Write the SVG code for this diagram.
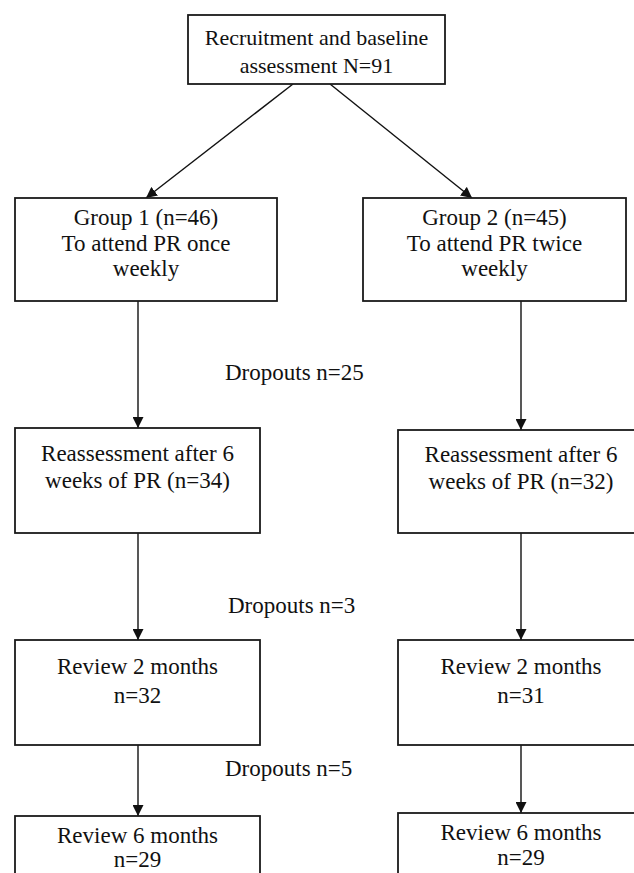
<svg xmlns="http://www.w3.org/2000/svg" width="634" height="873" viewBox="0 0 634 873">
<defs>
<marker id="ah" markerUnits="userSpaceOnUse" markerWidth="11" markerHeight="11" viewBox="0 0 11 11" refX="11" refY="5.5" orient="auto">
<path d="M0,0 L11,5.5 L0,11 z" fill="#111"/>
</marker>
<style>
.box{fill:#fff;stroke:#1a1a1a;stroke-width:1.8}
.t{font-family:"Liberation Serif","Times New Roman",serif;font-size:23px;fill:#111;text-anchor:middle}
.l{font-family:"Liberation Serif","Times New Roman",serif;font-size:23px;fill:#111}
.c{stroke:#111;stroke-width:1.4;fill:none;marker-end:url(#ah)}
</style>
</defs>
<rect width="634" height="873" fill="#fff"/>
<g id="connectors">
<line class="c" x1="293" y1="84" x2="146" y2="198"/>
<line class="c" x1="330" y1="84" x2="472" y2="198"/>
<line class="c" x1="138" y1="301" x2="138" y2="428"/>
<line class="c" x1="521" y1="301" x2="521" y2="430"/>
<line class="c" x1="138" y1="533" x2="138" y2="640"/>
<line class="c" x1="521" y1="533" x2="521" y2="640"/>
<line class="c" x1="138" y1="745" x2="138" y2="816"/>
<line class="c" x1="521" y1="745" x2="521" y2="813"/>
</g>
<g id="recruitment">
<rect class="box" x="188" y="15" width="257" height="69"/>
<text class="t" x="316.5" y="45" style="font-size:22px">Recruitment and baseline</text>
<text class="t" x="316.5" y="73" style="font-size:22px">assessment N=91</text>
</g>
<g id="group1">
<rect class="box" x="15" y="198" width="262" height="103"/>
<text class="t" x="146" y="225">Group 1 (n=46)</text>
<text class="t" x="146" y="250.5">To attend PR once</text>
<text class="t" x="146" y="276">weekly</text>
</g>
<g id="group2">
<rect class="box" x="363" y="198" width="263" height="103"/>
<text class="t" x="494.5" y="225">Group 2 (n=45)</text>
<text class="t" x="494.5" y="250.5">To attend PR twice</text>
<text class="t" x="494.5" y="276">weekly</text>
</g>
<g id="reassess1">
<rect class="box" x="15" y="428" width="245" height="105"/>
<text class="t" x="137.5" y="461">Reassessment after 6</text>
<text class="t" x="137.5" y="488">weeks of PR (n=34)</text>
</g>
<g id="reassess2">
<rect class="box" x="398" y="430" width="246" height="103"/>
<text class="t" x="521" y="462">Reassessment after 6</text>
<text class="t" x="521" y="489">weeks of PR (n=32)</text>
</g>
<g id="review2m1">
<rect class="box" x="15" y="640" width="245" height="105"/>
<text class="t" x="137.5" y="674">Review 2 months</text>
<text class="t" x="137.5" y="703">n=32</text>
</g>
<g id="review2m2">
<rect class="box" x="398" y="640" width="246" height="105"/>
<text class="t" x="521" y="674">Review 2 months</text>
<text class="t" x="521" y="703">n=31</text>
</g>
<g id="review6m1">
<rect class="box" x="15" y="816" width="245" height="80"/>
<text class="t" x="137.5" y="843">Review 6 months</text>
<text class="t" x="137.5" y="867">n=29</text>
</g>
<g id="review6m2">
<rect class="box" x="398" y="813" width="246" height="80"/>
<text class="t" x="521" y="840">Review 6 months</text>
<text class="t" x="521" y="865">n=29</text>
</g>
<g id="labels">
<text class="l" x="225" y="380">Dropouts n=25</text>
<text class="l" x="228" y="613">Dropouts n=3</text>
<text class="l" x="225" y="776">Dropouts n=5</text>
</g>
</svg>
